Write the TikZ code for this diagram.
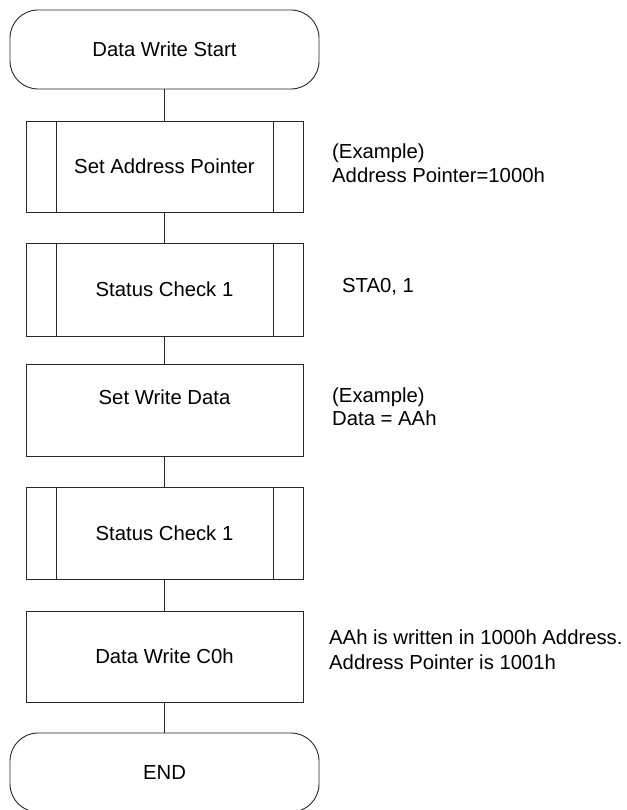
\documentclass[tikz,border=0pt]{standalone}
\usepackage{fontspec}
\setmainfont{Liberation Sans}
\begin{document}
\begin{tikzpicture}[x=1pt,y=-1pt,
  every node/.style={font=\fontsize{20.3}{24}\selectfont},
  ln/.style={draw=black!85, line width=0.9pt},
  term/.style={ln, rectangle, rounded corners=28pt, minimum width=309pt, minimum height=79pt, inner sep=0pt, text height=14.6pt, text depth=0pt},
  procbox/.style={ln, rectangle, minimum width=277pt, minimum height=92pt, inner sep=0pt, text height=14.6pt, text depth=0pt},
  plain/.style={inner sep=0pt, text height=14.6pt, text depth=0pt},
  note/.style={inner sep=0pt, anchor=base west, align=left}
]
\clip (0,0) rectangle (626,810);

\node[term] (start) at (164.5,49.5) {Data Write Start};
\node[procbox, minimum height=91pt] (sap) at (164.5,166.5) {Set Address Pointer};
\node[procbox, minimum height=93pt] (sc1) at (164.5,289.5) {Status Check 1};
\node[procbox] (swd) at (164.5,410) {};
\node[plain] (swdt) at (164.5,396.7) {Set Write Data};
\node[procbox] (sc2) at (164.5,533) {Status Check 1};
\node[procbox, minimum height=91pt] (dwc) at (164.5,656.5) {Data Write C0h};
\node[term] (end) at (164.5,772.5) {END};

% inner lines of predefined processes
\foreach \n in {sap,sc1,sc2}{
  \draw[ln] ([xshift=31pt]\n.north west) -- ([xshift=31pt]\n.south west);
  \draw[ln] ([xshift=-30pt]\n.north east) -- ([xshift=-30pt]\n.south east);
}

% connectors
\draw[ln] (start) -- (sap);
\draw[ln] (sap) -- (sc1);
\draw[ln] (sc1) -- (swd);
\draw[ln] (swd) -- (sc2);
\draw[ln] (sc2) -- (dwc);
\draw[ln] (dwc) -- (end);

% notes (anchor = baseline of last line)
\node[note] (n1) at (332,183) {(Example)\\Address Pointer=1000h};
\node[note] (n2) at (342,292) {STA0, 1};
\node[note, font=\fontsize{20.3}{22.5}\selectfont] (n3) at (332,425) {(Example)\\Data = AAh};
\node[note, font=\fontsize{20.3}{25}\selectfont] (n4) at (329,669) {AAh is written in 1000h Address.\\Address Pointer is 1001h};
\end{tikzpicture}
\end{document}
